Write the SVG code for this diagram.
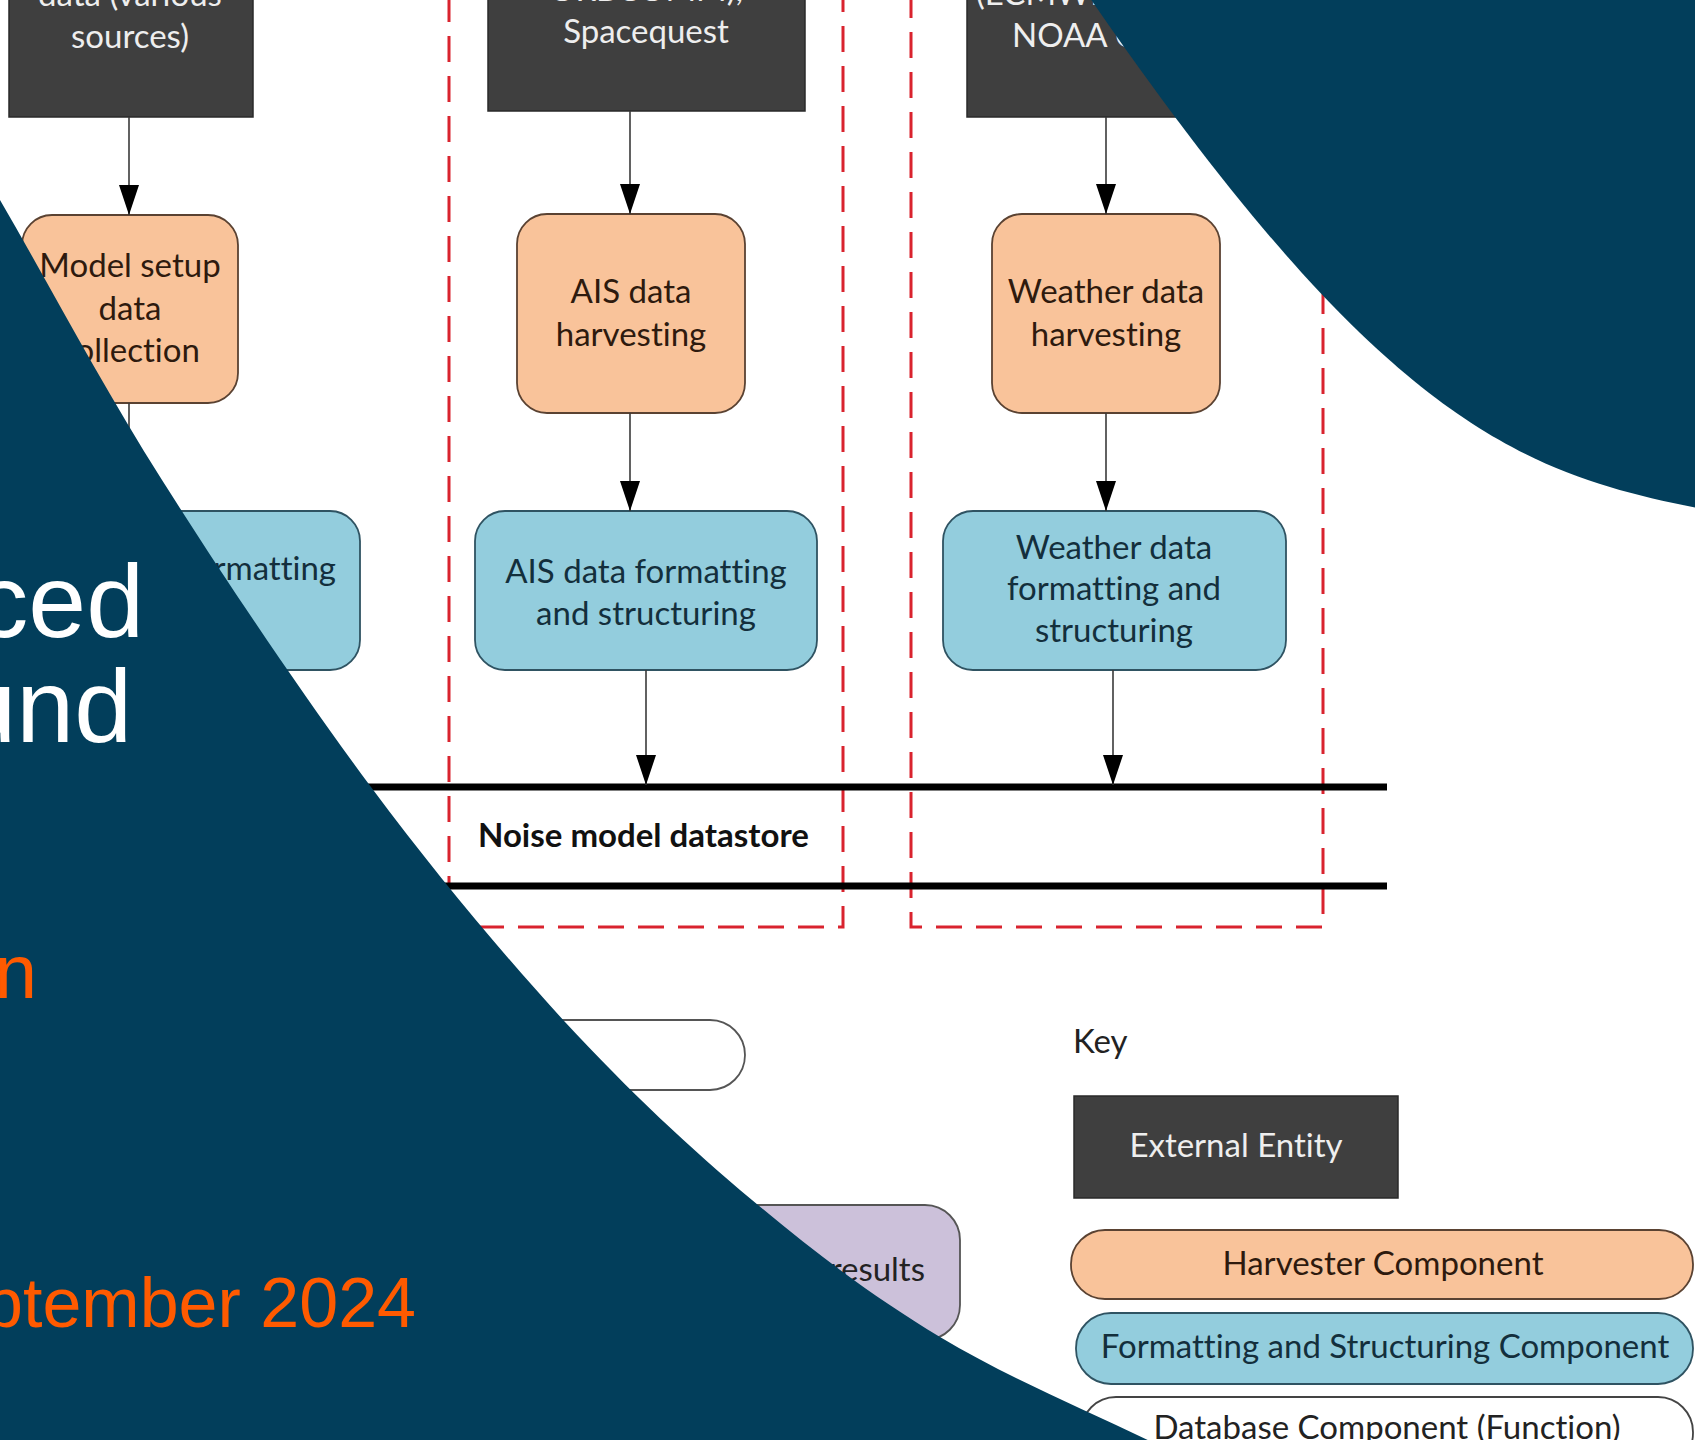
<svg xmlns="http://www.w3.org/2000/svg" width="1695" height="1440" viewBox="0 0 1695 1440">
<style>
.t{font-family:Lato,"Liberation Sans",sans-serif;font-size:33px;text-anchor:middle;font-variant-ligatures:none;font-feature-settings:"liga" 0}
.ext rect{fill:#3f3f3f;stroke:#2a2a2a;stroke-width:1.5}
.ext text{fill:#eeeeee}
.harv rect{fill:#f9c39a;stroke:#5a4232;stroke-width:1.8}
.harv text{fill:#2e1a0e}
.fmt rect{fill:#93cddd;stroke:#2f5362;stroke-width:1.8}
.fmt text{fill:#132f3c}
.panel{fill:none;stroke:#d9232e;stroke-width:3;stroke-dasharray:26 14}
.conn path{fill:none;stroke:#3a3a3a;stroke-width:1.6;marker-end:url(#ah)}
.ds{stroke:#000;stroke-width:7}
.navy{fill:#023e5b}
.title{font-family:"Liberation Sans",Arial,sans-serif}
</style>
<defs>
<marker id="ah" viewBox="0 -10 30 20" refX="30" refY="0" markerWidth="30" markerHeight="20" markerUnits="userSpaceOnUse" orient="auto">
<path d="M0,-10 L30,0 L0,10 Z" fill="#000"/>
</marker>
</defs>
<rect x="0" y="0" width="1695" height="1440" fill="#ffffff"/>

<rect class="panel" x="449" y="-20" width="394" height="947"/>
<rect class="panel" x="911" y="-20" width="412" height="947"/>

<g id="datastore">
<line class="ds" x1="280" y1="787" x2="1387" y2="787"/>
<line class="ds" x1="280" y1="886" x2="1387" y2="886"/>
<text class="t" x="478" y="847" style="text-anchor:start;font-weight:bold;fill:#111">Noise model datastore</text>
</g>

<g id="ext1" class="ext">
<rect x="9" y="-10" width="244" height="127"/>
<text class="t" x="130" y="6">data (various</text>
<text class="t" x="130" y="48">sources)</text>
</g>
<g id="ext2" class="ext">
<rect x="488" y="-10" width="317" height="121"/>
<text class="t" x="646" y="1">ORBCOMM),</text>
<text class="t" x="646" y="43">Spacequest</text>
</g>
<g id="ext3" class="ext">
<rect x="967" y="-10" width="279" height="127"/>
<text class="t" x="976" y="5" style="text-anchor:start">(ECMWF,</text>
<text class="t" x="1012" y="47" style="text-anchor:start">NOAA CFSR)</text>
</g>

<g id="harv1" class="harv">
<rect x="22" y="215" width="216" height="188" rx="30"/>
<text class="t" x="130" y="277">Model setup</text>
<text class="t" x="130" y="320">data</text>
<text class="t" x="130" y="362">collection</text>
</g>
<g id="harv2" class="harv">
<rect x="517" y="214" width="228" height="199" rx="30"/>
<text class="t" x="631" y="303">AIS data</text>
<text class="t" x="631" y="346">harvesting</text>
</g>
<g id="harv3" class="harv">
<rect x="992" y="214" width="228" height="199" rx="30"/>
<text class="t" x="1106" y="303">Weather data</text>
<text class="t" x="1106" y="346">harvesting</text>
</g>

<g id="fmt1" class="fmt">
<rect x="150" y="511" width="210" height="159" rx="30"/>
<text class="t" x="336" y="580" style="text-anchor:end">formatting</text>
</g>
<g id="fmt2" class="fmt">
<rect x="475" y="511" width="342" height="159" rx="30"/>
<text class="t" x="646" y="583">AIS data formatting</text>
<text class="t" x="646" y="625">and structuring</text>
</g>
<g id="fmt3" class="fmt">
<rect x="943" y="511" width="343" height="159" rx="30"/>
<text class="t" x="1114" y="559">Weather data</text>
<text class="t" x="1114" y="600">formatting and</text>
<text class="t" x="1114" y="642">structuring</text>
</g>

<g id="db1">
<rect x="300" y="1020" width="445" height="70" rx="35" fill="#ffffff" stroke="#555" stroke-width="1.8"/>
</g>
<g id="results">
<rect x="500" y="1205" width="460" height="135" rx="35" fill="#ccc1da" stroke="#555" stroke-width="1.8"/>
<text class="t" x="925" y="1281" style="text-anchor:end;fill:#222">results</text>
</g>

<g id="key">
<text class="t" x="1073" y="1053" style="text-anchor:start;fill:#222">Key</text>
<g id="key-ext" class="ext">
<rect x="1074" y="1096" width="324" height="102"/>
<text class="t" x="1236" y="1157">External Entity</text>
</g>
<g id="key-harv" class="harv">
<rect x="1071" y="1230" width="622" height="69" rx="34"/>
<text class="t" x="1383" y="1275">Harvester Component</text>
</g>
<g id="key-fmt" class="fmt">
<rect x="1076" y="1313" width="617" height="71" rx="35"/>
<text class="t" x="1385" y="1358">Formatting and Structuring Component</text>
</g>
<g id="key-db">
<rect x="1081" y="1397" width="612" height="71" rx="35" fill="#ffffff" stroke="#444" stroke-width="1.8"/>
<text class="t" x="1387" y="1439" style="fill:#222">Database Component (Function)</text>
</g>
</g>

<g id="connectors" class="conn">
<path d="M129,117 V215"/>
<path d="M129,403 V511"/>
<path d="M630,111 V214"/>
<path d="M630,413 V511"/>
<path d="M646,670 V785"/>
<path d="M1106,117 V214"/>
<path d="M1106,413 V511"/>
<path d="M1113,670 V785"/>
</g>

<path class="navy" d="M1090,-2 C1380,420 1520,473 1697,508 L1697,-2 Z"/>
<path class="navy" d="M0,200 C54,293 100,382 162,480 C224,578 304,697 371,787 C438,877 502,953 565,1022 C629,1091 690,1148 752,1200 C815,1253 872,1296 940,1337 C1008,1378 1087,1410 1160,1446 L-2,1446 Z"/>

<text class="title" x="144" y="637" font-size="104" fill="#ffffff" text-anchor="end">ced</text>
<text class="title" x="132" y="742" font-size="104" fill="#ffffff" text-anchor="end">und</text>
<text class="title" x="37" y="998" font-size="76" fill="#ff5a00" text-anchor="end">n</text>
<text class="title" x="416" y="1327" font-size="70" fill="#ff5a00" text-anchor="end">ptember 2024</text>
</svg>
